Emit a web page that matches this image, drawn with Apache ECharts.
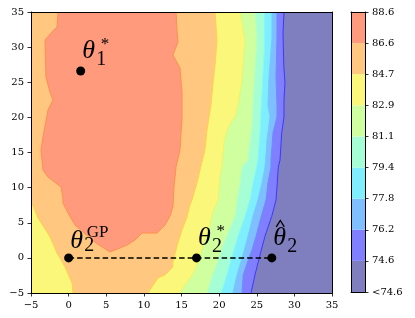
<!DOCTYPE html>
<html><head><meta charset="utf-8">
<script src="https://cdn.jsdelivr.net/npm/echarts@6/dist/echarts.min.js"></script>
<style>html,body{margin:0;padding:0;background:#fff}#c{width:415px;height:318px}</style>
</head><body><div id="c"></div>
<script>
// ---- data ----
const xMin = -5, xMax = 35, yMin = -5, yMax = 35, tickStep = 5;
const levels = [74.6, 76.2, 77.8, 79.4, 81.1, 82.9, 84.7, 86.6, 88.6];
const colorbarLabels = ['<74.6', '74.6', '76.2', '77.8', '79.4', '81.1', '82.9', '84.7', '86.6', '88.6'];

// contour boundaries (region >= level lies to the left / inside)
const c746 = [[28.62,35],[28.49,32.0],[28.6,27.2],[28.75,24.9],[28.62,22.5],[28.62,20.0],[28.32,17.8],[28.09,13.9],[27.86,12.9],[27.73,10.7],[27.56,8.2],[26.99,5.9],[26.1,3.1],[25.43,0.4],[24.77,-2.4],[24.24,-5]];
const c762 = [[27.69,35],[27.69,31.3],[27.56,25.75],[27.69,21.76],[27.69,20.05],[27.16,17.78],[26.89,13.93],[26.89,12.94],[26.49,10.66],[26.23,8.24],[25.6,5.91],[24.9,3.07],[24.37,1.12],[24.1,0.41],[23.2,-2.44],[23.04,-5]];
const c778 = [[27.03,35],[27.03,31.3],[26.63,25.75],[26.49,21.76],[26.76,20.05],[26.36,16.78],[26.23,14.65],[26.1,12.94],[25.7,10.66],[25.16,8.24],[24.5,5.91],[23.84,3.07],[23.17,0.41],[22.38,-2.44],[21.84,-5]];
const c794 = [[26.01,35],[26.01,29.59],[25.7,23.89],[25.57,21.05],[25.43,17.78],[25.16,13.93],[24.9,12.51],[24.5,10.66],[24.1,8.24],[23.44,5.91],[22.51,3.07],[21.58,-0.3],[20.91,-2.86],[20.25,-5]];
const c811 = [[24.77,35],[25.03,31.01],[24.77,27.17],[24.5,21.76],[24.37,18.91],[23.97,15.36],[23.84,13.93],[23.04,12.94],[22.78,10.66],[22.38,8.24],[22.11,5.91],[21.18,3.54],[20.51,1.83],[19.85,-0.44],[19.05,-2.72],[18.39,-5]];
const c829 = [[22.78,35],[23.44,31.01],[23.04,25.32],[22.51,21.76],[22.11,20.05],[21.58,19.35],[21.05,18.2],[20.65,16.35],[20.38,13.22],[20.12,11.51],[19.85,8.24],[19.19,6.53],[18.65,4.25],[17.85,1.83],[17.46,-0.02],[16.53,-2.3],[15.47,-3.86],[14.8,-5]];
const c847Right = [[19.46,35],[19.72,31.01],[19.46,27.46],[19.19,24.89],[18.92,21.76],[18.39,18.2],[18.12,15.36],[17.46,12.51],[17.06,10.66],[16.4,8.24],[16.13,7.53],[15.73,5.82],[15.07,3.97],[14.4,1.69],[13.87,-0.59],[13.87,-1.3],[12.81,-2.44],[11.88,-2.86],[11.08,-4.14],[10.55,-5]];
const c847Left = [[0.58,-5],[0.45,-3.57],[-0.48,-1.3],[-1.55,0.69],[-2.47,2.97],[-4.07,5.68],[-5,8.0]];
const c866 = [[-1.41,35],[-1.54,32.86],[-2.21,32.15],[-3.14,31.01],[-3.01,25.75],[-2.48,23.61],[-2.08,22.47],[-2.74,21.05],[-3.41,17.21],[-3.67,15.36],[-3.41,12.51],[-2.74,11.51],[-1.01,10.09],[-0.75,8.52],[-0.75,7.81],[-0.08,6.39],[0.85,4.68],[1.91,3.68],[3.64,2.12],[5.5,0.84],[6.83,1.41],[7.76,1.83],[8.82,2.54],[9.75,3.54],[11.74,3.54],[12.81,4.68],[13.47,5.96],[13.87,7.38],[14.0,10.09],[14.27,12.94],[14.8,15.36],[14.93,17.78],[15.07,19.63],[15.07,23.47],[14.8,27.03],[13.87,28.88],[14.53,30.73],[14.4,32.44],[14.27,35]];

// marked points
const pointX = [1.6, 0, 17, 27];
const pointY = [26.6, 0, 0, 0];
const pointSub = ['1', '2', '2', '2'];
const pointSup = ['*', 'GP', '*', ''];
const pointHat = [false, false, false, true];

// ---- styles ----
const bandColors = ['#7f7fbf', '#7f7fff', '#7fbfff', '#7fefff', '#a6ffd4', '#cfff9f', '#fbf77b', '#ffc77f', '#ff9a7c'];
const lineColors = ['#3a3aff', '#6d8cff', '#74c8ff', '#86fbf0', '#bdffbb', '#eaf66c', '#ffd24e', '#ff8f52'];

const curves = [c746, c762, c778, c794, c811, c829];
const regions = [];
curves.forEach((c, i) => regions.push({ poly: c.concat([[xMin, yMin], [xMin, yMax]]), lines: [c], lvl: i }));
regions.push({ poly: c847Right.concat(c847Left, [[xMin, yMax]]), lines: [c847Right, c847Left], lvl: 6 });
regions.push({ poly: c866, lines: [c866], lvl: 7 });

const serif = '"DejaVu Serif", serif';
const labelStyle = { color: '#000', fontFamily: serif, fontSize: 10 };
const minus = v => String(v).replace('-', '\u2212');

function renderRegion(params, api) {
  const r = regions[params.dataIndex];
  const children = [{
    type: 'polygon',
    shape: { points: r.poly.map(p => api.coord(p)) },
    style: { fill: bandColors[r.lvl + 1] }
  }];
  r.lines.forEach(l => children.push({
    type: 'polyline',
    shape: { points: l.map(p => api.coord(p)) },
    style: { stroke: lineColors[r.lvl], lineWidth: 1, fill: null }
  }));
  return { type: 'group', children };
}

function renderBand(params, api) {
  const i = params.dataIndex;
  const a = api.coord([0, i]);
  const b = api.coord([1, i + 1]);
  return { type: 'rect', shape: { x: a[0], y: b[1], width: b[0] - a[0], height: a[1] - b[1] }, style: { fill: bandColors[i] } };
}

function renderAnnot(params, api) {
  const i = params.dataIndex;
  const [cx, cy] = api.coord([pointX[i], pointY[i]]);
  const gp = pointSup[i] === 'GP';
  const ch = [];
  ch.push({ type: 'text', x: cx + 1.5, y: cy - (gp ? 17 : 19.5),
    style: { text: '\u03b8', font: 'italic 26px "Liberation Serif"', fill: '#000', align: 'left', verticalAlign: 'middle' } });
  ch.push({ type: 'text', x: cx + 15.5, y: cy - (gp ? 12.5 : 11.3),
    style: { text: pointSub[i], font: '20px "Liberation Serif"', fill: '#000', align: 'left', verticalAlign: 'middle' } });
  if (pointSup[i]) {
    ch.push({ type: 'text', x: cx + (gp ? 18 : 20), y: cy - (gp ? 25.5 : 26.5),
      style: { text: pointSup[i], font: '17px "Liberation Serif"', fill: '#000', align: 'left', verticalAlign: 'middle' } });
  }
  if (pointHat[i]) {
    ch.push({ type: 'polyline', shape: { points: [[cx + 4.5, cy - 31], [cx + 8.5, cy - 37.5], [cx + 12.5, cy - 31]] },
      style: { stroke: '#000', lineWidth: 1.3, fill: null } });
  }
  return { type: 'group', children: ch };
}

const chart = echarts.init(document.getElementById('c'), null, { renderer: 'canvas' });
const frameAxis = { show: true, axisLine: { show: true, onZero: false, lineStyle: { color: '#000', width: 1 } }, axisTick: { show: false }, axisLabel: { show: false }, splitLine: { show: false }, z: 10 };

chart.setOption({
  animation: false,
  backgroundColor: '#fff',
  grid: [
    { left: 31, top: 12, width: 301, height: 281, show: true, backgroundColor: bandColors[0], borderWidth: 0 },
    { left: 351, top: 12, width: 14, height: 280, show: false }
  ],
  xAxis: [
    { type: 'value', gridIndex: 0, min: xMin, max: xMax, interval: tickStep, position: 'bottom', z: 10,
      axisLine: { show: true, onZero: false, lineStyle: { color: '#000', width: 1 } },
      axisTick: { show: true, inside: false, length: 3.5, lineStyle: { color: '#000', width: 0.8 } },
      axisLabel: Object.assign({ margin: 7, formatter: minus }, labelStyle), splitLine: { show: false } },
    Object.assign({ type: 'value', gridIndex: 0, min: xMin, max: xMax, position: 'top' }, frameAxis),
    Object.assign({ type: 'value', gridIndex: 1, min: 0, max: 1, position: 'bottom' }, frameAxis),
    Object.assign({ type: 'value', gridIndex: 1, min: 0, max: 1, position: 'top' }, frameAxis)
  ],
  yAxis: [
    { type: 'value', gridIndex: 0, min: yMin, max: yMax, interval: tickStep, position: 'left', z: 10,
      axisLine: { show: true, onZero: false, lineStyle: { color: '#000', width: 1 } },
      axisTick: { show: true, inside: false, length: 3.5, lineStyle: { color: '#000', width: 0.8 } },
      axisLabel: Object.assign({ margin: 7, formatter: minus }, labelStyle), splitLine: { show: false } },
    Object.assign({ type: 'value', gridIndex: 0, min: yMin, max: yMax, position: 'right' }, frameAxis),
    { type: 'value', gridIndex: 1, min: 0, max: levels.length, interval: 1, position: 'right', z: 10,
      axisLine: { show: true, onZero: false, lineStyle: { color: '#000', width: 1 } },
      axisTick: { show: true, inside: false, length: 3.5, lineStyle: { color: '#000', width: 0.8 } },
      axisLabel: Object.assign({ margin: 7, formatter: v => colorbarLabels[v] }, labelStyle), splitLine: { show: false } },
    Object.assign({ type: 'value', gridIndex: 1, min: 0, max: levels.length, position: 'left' }, frameAxis)
  ],
  series: [
    { type: 'custom', xAxisIndex: 0, yAxisIndex: 0, clip: true, renderItem: renderRegion, data: regions.map((r, i) => i), z: 1, silent: true },
    { type: 'custom', xAxisIndex: 2, yAxisIndex: 2, renderItem: renderBand, data: levels.map((l, i) => i), z: 1, silent: true },
    { type: 'line', xAxisIndex: 0, yAxisIndex: 0, data: [[pointX[1], pointY[1]], [pointX[3], pointY[3]]], showSymbol: false, z: 3,
      lineStyle: { color: '#000', width: 1.5, type: [5.5, 3] }, silent: true },
    { type: 'scatter', xAxisIndex: 0, yAxisIndex: 0, data: pointX.map((x, i) => [x, pointY[i]]), symbolSize: 9, z: 4,
      itemStyle: { color: '#000', opacity: 1 }, silent: true },
    { type: 'custom', xAxisIndex: 0, yAxisIndex: 0, clip: false, renderItem: renderAnnot, data: pointX.map((x, i) => i), z: 5, silent: true }
  ]
});
</script></body></html>
